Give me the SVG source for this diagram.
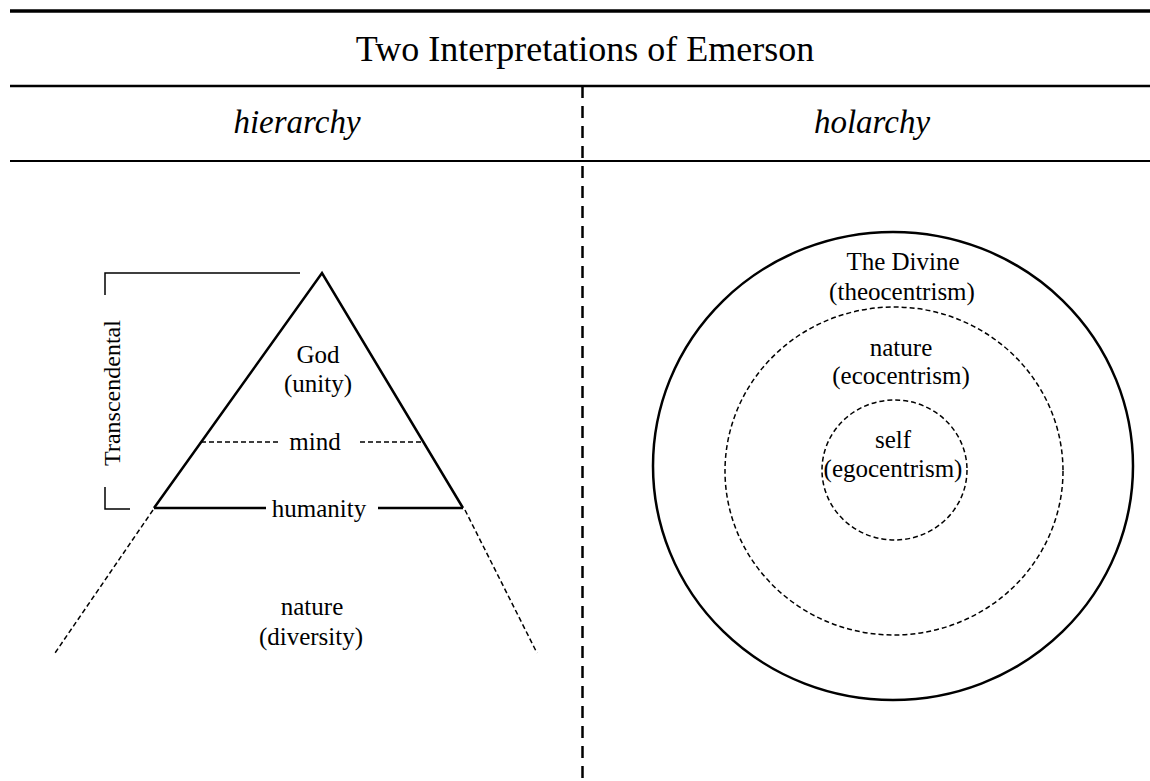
<svg xmlns="http://www.w3.org/2000/svg" width="1150" height="781" viewBox="0 0 1150 781">
<style>
  .t { font-family: "Liberation Serif", "Times New Roman", serif; fill: #000; text-anchor: middle; }
  .lbl { font-size: 25px; }
  .hdr { font-size: 33px; font-style: italic; }
  .rule { stroke: #000; fill: none; }
  .solid { stroke: #000; stroke-width: 2.5; fill: none; }
  .thin { stroke: #000; stroke-width: 1.5; fill: none; }
  .dash { stroke: #000; stroke-width: 1.5; fill: none; stroke-dasharray: 5 3; }
</style>
<rect width="1150" height="781" fill="#fff"/>

<g id="frame">
  <line class="rule" x1="10" y1="11" x2="1150" y2="11" stroke-width="3.5"/>
  <line class="rule" x1="10" y1="86" x2="1150" y2="86" stroke-width="2.5"/>
  <line class="rule" x1="10" y1="161" x2="1150" y2="161" stroke-width="2"/>
  <line class="rule" x1="582.5" y1="86" x2="582.5" y2="781" stroke-width="2.5" stroke-dasharray="12 8"/>
  <text id="title" class="t" x="585" y="61" font-size="36">Two Interpretations of Emerson</text>
  <text id="hdr-hierarchy" class="t hdr" x="297" y="133">hierarchy</text>
  <text id="hdr-holarchy" class="t hdr" x="872" y="133">holarchy</text>
</g>

<g id="hierarchy">
  <g id="pyramid">
    <polyline class="solid" points="154,508 322,273 463,508"/>
    <line class="solid" x1="154" y1="508" x2="266" y2="508"/>
    <line class="solid" x1="378" y1="508" x2="463" y2="508"/>
    <line class="dash" x1="201" y1="442" x2="278" y2="442"/>
    <line class="dash" x1="360" y1="442" x2="422" y2="442"/>
    <line class="dash" x1="153" y1="510" x2="55" y2="653"/>
    <line class="dash" x1="465" y1="510" x2="537" y2="653"/>
  </g>
  <g id="transcendental">
    <polyline class="thin" points="300,273 105,273 105,295"/>
    <polyline class="thin" points="105,487 105,509 130,509"/>
    <text class="t" font-size="24" transform="translate(120,393) rotate(-90)" x="0" y="0">Transcendental</text>
  </g>
  <g id="god">
    <text class="t lbl" x="318" y="363">God</text>
    <text class="t lbl" x="318" y="392">(unity)</text>
  </g>
  <g id="mind"><text class="t lbl" x="315" y="450">mind</text></g>
  <g id="humanity"><text class="t lbl" x="319" y="517">humanity</text></g>
  <g id="nature-h">
    <text class="t lbl" x="312" y="615">nature</text>
    <text class="t lbl" x="311" y="645">(diversity)</text>
  </g>
</g>

<g id="holarchy">
  <g id="divine">
    <ellipse class="solid" cx="893" cy="466" rx="240" ry="234"/>
    <text class="t lbl" x="903" y="270">The Divine</text>
    <text class="t lbl" x="902" y="300">(theocentrism)</text>
  </g>
  <g id="nature-c">
    <ellipse class="dash" cx="894" cy="471" rx="169" ry="164"/>
    <text class="t lbl" x="901" y="356">nature</text>
    <text class="t lbl" x="901" y="384">(ecocentrism)</text>
  </g>
  <g id="self">
    <ellipse class="dash" cx="894.5" cy="470" rx="72.5" ry="70"/>
    <text class="t lbl" x="893" y="448">self</text>
    <text class="t lbl" x="893" y="477">(egocentrism)</text>
  </g>
</g>

<g id="connectors"></g>
</svg>
